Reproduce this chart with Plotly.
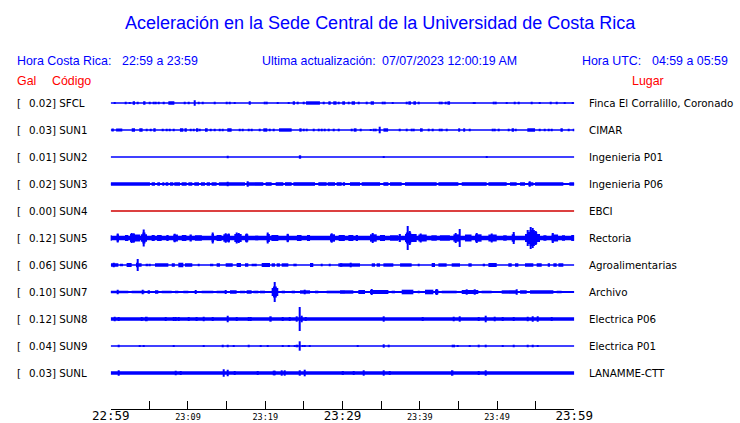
import plotly.graph_objects as go

# ---------------- data ----------------
codes = ["SFCL", "SUN1", "SUN2", "SUN3", "SUN4", "SUN5", "SUN6", "SUN7", "SUN8", "SUN9", "SUNL"]
gal_max = [0.02, 0.03, 0.01, 0.02, 0.00, 0.12, 0.06, 0.10, 0.12, 0.04, 0.03]
places = ["Finca El Corralillo, Coronado", "CIMAR", "Ingenieria P01", "Ingenieria P06", "EBCI",
          "Rectoria", "Agroalimentarias", "Archivo", "Electrica P06", "Electrica P01", "LANAMME-CTT"]

tick_minutes = [0, 5, 10, 15, 20, 25, 30, 35, 40, 45, 50, 55, 60]
tick_labels = ["22:59", "", "23:09", "", "23:19", "", "23:29", "", "23:39", "", "23:49", "", "23:59"]
big_labels = ["22:59", "23:29", "23:59"]

title_text = "Aceleración en la Sede Central de la Universidad de Costa Rica"
hora_cr = "22:59 a 23:59"
hora_utc = "04:59 a 05:59"
ultima = "07/07/2023 12:00:19 AM"

# bursts per station: (start minute, end minute, half amplitude in trace units)
SFCL_bursts = [(0.56,0.56,1.0),(1.94,1.94,1.3),(2.50,2.50,1.0),(2.9,3.15,1.7),(3.45,3.45,1.3),(4.2,4.5,1.7),
    (5.0,5.0,1.3),(5.52,5.52,1.3),(5.82,5.82,1.3),(6.16,6.16,1.3),(6.81,6.81,1.3),(7.46,8.24,1.7),(9.53,9.53,1.3),
    (10.05,10.05,1.3),(10.91,10.91,2.7),(11.34,11.34,1.3),(11.86,11.86,1.3),(13.41,13.41,1.3),(15.01,15.01,1.3),
    (15.35,15.35,1.3),(16.0,16.0,1.0),(17.88,18.13,1.7),(19.88,19.88,1.3),(20.18,20.18,1.3),(21.56,21.56,1.0),
    (22.99,22.99,1.0),(23.6,23.85,1.7),(24.2,24.2,1.3),(25.02,25.02,1.3),(25.28,27.08,1.7),(27.52,27.52,1.3),
    (28.17,28.47,1.7),(28.8,29.23,1.7),(29.46,29.46,1.3),(29.97,30.33,1.7),(30.75,30.75,1.3),(31.18,31.62,1.7),
    (32.05,32.05,1.3),(33.13,33.13,1.3),(33.64,34.07,1.7),(35.15,35.15,1.3),(35.41,35.41,1.3),(36.45,36.45,1.0),
    (38.3,38.3,1.3),(38.52,38.86,1.7),(39.17,39.51,1.7),(39.81,39.81,1.3),(42.62,42.62,1.3),(42.88,42.88,1.3),
    (43.39,43.39,1.3),(43.57,43.92,1.7),(46.93,46.93,1.0),(47.15,47.15,1.0),(49.52,49.52,1.3),(49.78,49.78,1.3),
    (51.25,51.25,1.0),(52.32,52.32,1.3),(52.76,52.76,1.3),(54.48,54.48,1.3),(55.47,55.47,1.0),(56.98,56.98,1.3),
    (57.72,57.72,1.3),(58.8,58.8,1.0),(59.75,59.75,1.0)]

SUN1_bursts = [(0.1,0.4,1.5),(0.7,1.5,1.5),(2.72,3.15,1.7),(3.7,4.13,1.7),(4.65,4.65,1.3),(5.17,5.17,1.3),
    (5.52,5.82,1.7),(6.68,6.68,1.3),(7.24,7.24,1.3),(7.59,7.59,1.3),(8.11,8.11,1.3),(8.96,9.40,1.7),(9.55,9.85,1.7),
    (10.35,10.35,1.3),(10.69,10.69,1.3),(11.04,11.34,1.7),(11.56,11.56,1.3),(12.2,12.55,1.7),(12.98,12.98,1.3),
    (13.5,13.5,1.3),(14.14,14.14,1.3),(14.45,14.45,1.3),(15.09,15.65,1.7),(16.73,16.73,1.3),(17.04,17.04,1.3),
    (17.81,17.81,1.3),(18.24,18.24,1.3),(19.32,19.32,1.3),(19.75,20.27,1.7),(20.62,20.62,1.3),(21.05,21.05,1.3),
    (21.78,23.42,1.7),(24.41,24.71,1.7),(25.02,25.02,1.3),(25.36,25.36,1.3),(26.22,26.22,1.3),(26.87,26.87,1.3),
    (27.3,27.3,1.3),(27.73,27.73,1.3),(28.17,28.17,1.3),(28.9,28.9,1.3),(29.46,29.46,1.3),(31.18,31.18,1.3),
    (31.57,31.82,1.7),(32.35,32.35,1.3),(33.64,33.64,1.0),(34.08,34.08,1.3),(34.29,34.29,1.3),(34.85,34.85,3.3),
    (35.3,35.9,1.7),(37.35,37.35,1.3),(38.3,38.3,1.3),(38.95,38.95,1.3),(39.17,39.17,1.3),(40.03,40.38,1.7),
    (41.11,41.11,1.3),(41.67,41.67,1.3),(42.62,42.62,1.3),(42.88,42.88,1.3),(43.48,43.48,1.3),(44.97,45.23,1.7),
    (45.62,45.88,1.7),(46.5,46.5,1.3),(49.43,49.43,1.3),(49.74,49.74,1.3),(50.17,50.17,1.3),(51.46,51.46,1.3),
    (51.89,52.19,1.7),(52.41,52.41,1.3),(53.92,54.92,1.7),(55.47,55.47,1.3),(56.21,56.21,1.3),(56.64,56.64,1.3),
    (57.07,57.07,1.3),(58.21,58.51,1.7),(59.23,59.23,1.3),(59.88,59.88,1.3)]

SUN2_bursts = [(15.09,15.09,1.3),(24.35,24.65,1.7),(35.28,35.28,1.0),(48.66,48.66,1.0)]

SUN3_bursts = [(0.0,5.08,1.8),(5.30,5.73,1.8),(6.03,6.38,1.8),(6.68,6.94,1.8),(7.11,7.46,1.8),(7.67,8.10,1.8),
    (8.23,8.97,1.8),(9.18,9.83,1.8),(10.05,10.56,1.8),(10.82,11.43,1.8),(11.68,12.20,1.8),(12.42,12.85,1.8),
    (13.06,13.71,1.8),(14.0,17.38,1.8),(17.60,19.75,1.8),(20.05,20.83,1.8),(21.35,22.34,1.8),(22.56,23.42,1.8),
    (23.64,26.44,1.8),(26.87,27.95,1.8),(28.08,29.03,1.8),(29.24,29.9,1.8),(30.11,30.33,1.8),(30.97,32.27,1.8),
    (32.48,34.86,1.8),(35.29,35.94,1.8),(36.15,37.66,1.8),(38.09,42.19,1.8),(42.41,45.0,1.8),(45.43,48.66,1.8),
    (48.88,51.25,1.8),(51.68,52.54,1.8),(52.98,53.62,1.8),(54.05,54.70,1.8),(54.92,58.58,1.8),(59.36,60.0,1.8),
    (15.09,15.09,2.3),(17.76,17.76,2.7),(54.27,54.27,2.7)]

SUN4_bursts = []

SUN5_bursts = [(0.0,0.12,2.7),(0.77,1.07,3.5),(0.9,0.95,4.5),(1.85,2.28,3.0),(2.50,3.14,4.0),(2.7,2.75,5.0),
    (2.95,3.0,4.7),(3.14,3.79,3.5),(3.9,4.7,3.7),(4.1,4.5,5.5),(4.25,4.3,8.5),(5.3,5.7,3.0),(6.0,6.6,3.0),
    (7.2,7.5,3.0),(8.1,8.7,3.5),(8.3,8.35,4.3),(9.2,9.8,3.0),(10.2,10.5,3.5),(10.9,11.8,2.7),(13.06,13.37,4.0),
    (13.2,13.25,5.5),(13.7,14.35,3.0),(14.58,15.44,3.7),(14.9,14.95,4.8),(15.2,15.25,4.5),(16.0,16.95,4.0),
    (16.3,16.35,5.5),(16.6,16.65,5.0),(17.38,17.81,3.7),(17.55,17.6,4.5),(18.7,19.1,2.3),(20.2,20.6,4.0),
    (20.35,20.4,5.5),(20.8,21.7,3.0),(22.77,23.08,3.5),(22.9,22.95,4.2),(24.1,24.7,3.0),(25.4,25.8,3.0),
    (28.38,29.03,3.7),(28.6,28.65,4.7),(29.5,30.3,3.0),(30.76,31.41,3.0),(31.8,32.0,3.0),(33.56,34.43,3.7),
    (33.9,33.95,5.0),(34.85,35.5,3.0),(36.15,37.2,2.7),(37.45,37.5,4.0),(38.09,39.6,4.0),(38.2,38.9,5.5),
    (38.4,38.45,12.0),(38.7,38.75,7.0),(39.82,40.9,3.5),(40.1,40.15,4.5),(41.5,42.2,2.7),(42.6,43.9,2.7),
    (44.35,45.2,3.7),(45.12,45.17,9.0),(44.6,44.65,5.0),(45.85,46.7,3.5),(47.15,48.0,3.7),(47.4,47.45,5.0),
    (48.88,49.96,3.5),(49.3,49.35,4.5),(50.8,51.25,2.7),(51.9,52.3,3.7),(52.08,52.13,6.0),(53.62,55.56,4.0),
    (53.9,55.2,6.0),(54.2,54.9,8.0),(54.35,54.4,11.0),(54.6,54.65,10.0),(54.0,54.05,8.0),(55.0,55.05,7.0),
    (56.0,56.4,2.7),(57.07,57.9,3.5),(57.25,57.3,5.0),(58.4,58.8,2.7),(59.6,60.0,3.0)]

SUN6_bursts = [(0.04,0.99,1.7),(0.4,0.5,2.3),(1.2,1.6,1.3),(2.06,2.71,2.0),(3.27,3.57,2.3),(3.4,3.5,6.0),
    (3.57,4.0,1.7),(4.52,4.87,1.3),(5.08,5.08,1.3),(5.73,7.46,1.7),(7.9,8.3,1.7),(8.75,9.4,2.3),(9.61,10.56,1.7),
    (11.34,11.34,1.3),(12.85,13.28,1.3),(13.71,14.14,1.7),(14.88,15.79,1.7),(16.30,16.86,2.0),(17.38,17.81,1.7),
    (18.24,18.9,1.3),(19.54,20.62,2.0),(20.83,21.26,1.7),(21.48,21.9,1.7),(22.13,22.99,1.7),(23.64,24.07,1.3),
    (25.79,26.22,2.0),(27.3,27.3,1.3),(28.38,28.38,1.3),(29.46,29.98,1.7),(29.68,32.27,1.7),(31.1,31.1,2.3),
    (33.78,34.21,1.7),(34.42,34.86,1.7),(35.29,36.58,1.7),(37.45,38.95,1.7),(39.81,39.81,1.3),(41.54,41.97,2.0),
    (42.41,43.48,1.7),(44.13,45.21,1.7),(46.29,46.72,1.7),(48.23,48.45,1.3),(48.88,49.96,2.0),(51.46,51.9,1.7),
    (52.33,52.76,1.7),(53.62,54.70,1.7),(55.13,55.78,1.7),(56.64,56.86,1.7),(57.29,57.72,1.7),(57.94,58.58,1.7)]

SUN7_bursts = [(0.0,2.28,1.3),(0.8,0.95,2.3),(2.71,4.44,1.3),(4.1,4.2,2.3),(4.78,5.08,1.7),(5.73,6.16,1.7),
    (6.6,7.89,1.3),(8.32,8.75,1.3),(9.4,10.05,1.3),(10.9,11.0,2.0),(11.77,13.28,1.3),(13.71,14.8,1.3),
    (14.8,14.9,2.0),(15.44,16.3,1.7),(16.73,17.38,1.3),(17.6,18.24,1.7),(18.46,19.11,1.3),(19.32,19.97,1.3),
    (20.83,21.69,4.0),(21.0,21.5,5.5),(21.2,21.25,10.0),(22.13,22.56,1.3),(23.42,23.85,1.3),(24.5,25.8,1.7),
    (25.1,25.2,2.3),(26.44,26.87,1.3),(27.95,30.32,1.3),(29.68,31.4,1.7),(32.05,32.91,2.0),(33.56,35.94,2.0),
    (33.75,33.85,3.0),(36.36,36.8,1.3),(37.66,39.17,2.3),(39.82,39.82,1.3),(40.68,41.76,2.3),(41.97,42.41,2.3),
    (42.19,42.25,3.0),(42.84,44.78,1.3),(45.43,47.58,2.0),(46.05,46.15,2.7),(47.15,47.2,2.7),(48.0,49.3,1.3),
    (50.6,52.54,1.7),(52.5,52.6,2.7),(52.98,53.84,1.7),(54.27,57.29,1.7),(57.72,58.36,1.3),(59.23,59.88,1.0)]

SUN8_bursts = [(0.47,0.47,2.3),(1.07,1.07,2.0),(4.0,4.0,2.0),(4.44,4.78,2.3),(7.15,7.15,2.0),(8.1,8.1,2.0),
    (8.45,8.45,2.0),(8.75,8.75,2.0),(10.05,10.05,2.0),(10.98,11.25,2.0),(12.03,12.03,2.3),(13.15,13.15,2.0),
    (15.09,15.09,3.3),(16.3,16.3,2.0),(17.81,17.81,2.0),(18.11,18.11,2.0),(20.53,20.83,2.7),(22.25,22.25,2.0),
    (23.2,23.2,2.0),(23.94,24.2,2.7),(24.45,24.55,12.0),(24.7,24.7,3.3),(25.3,25.3,2.0),(35.29,35.29,2.7),
    (40.34,40.34,2.0),(44.35,44.35,2.3),(45.08,45.3,2.7),(47.58,47.58,2.0),(48.53,48.53,3.3),(49.74,49.74,2.3),
    (50.69,50.69,2.0),(52.11,52.11,2.0),(53.92,53.92,2.3),(54.57,54.57,2.7),(55.3,55.3,2.7),(57.12,57.12,2.0)]

SUN9_bursts = [(1.0,1.0,1.3),(3.79,3.79,1.0),(4.22,4.22,1.0),(8.1,8.1,1.0),(11.99,11.99,1.0),(14.45,14.45,1.3),
    (15.09,15.09,1.3),(15.87,15.87,1.0),(17.81,17.81,1.3),(19.45,19.45,1.0),(20.27,20.27,1.0),(22.25,22.25,1.0),
    (23.11,23.11,1.0),(23.76,23.76,1.0),(24.07,24.28,1.3),(24.45,24.55,4.7),(24.84,24.84,1.0),(25.14,25.14,1.0),
    (25.7,25.7,1.0),(31.92,31.92,1.0),(35.29,35.29,1.7),(35.94,35.94,1.3),(44.13,44.56,1.3),(44.87,44.87,1.0),
    (46.42,46.42,1.0),(47.58,47.58,1.3),(48.53,48.53,1.3),(50.69,50.69,1.0),(52.11,52.11,1.3),(53.92,53.92,1.3),
    (54.57,54.57,1.3),(55.26,55.26,1.0)]

SUNL_bursts = [(1.0,1.0,2.7),(8.45,8.45,2.3),(9.1,9.1,2.0),(14.58,14.58,3.7),(15.09,15.09,3.3),(16.0,16.0,2.0),
    (18.98,18.98,2.0),(21.05,21.05,2.3),(21.26,21.26,2.3),(22.13,22.13,2.7),(22.56,22.56,2.7),(24.4,24.6,2.7),
    (25.0,25.2,3.3),(30.1,30.1,2.0),(31.4,31.4,2.0),(32.7,32.7,2.7),(35.29,35.29,2.7),(36.15,36.15,2.0),
    (44.04,44.35,2.7),(47.58,47.58,2.0),(48.49,48.49,2.7)]

# ---------------- layout constants ----------------
W, H = 740, 423
X0, X1 = 110.7, 574.3
ROW0, ROWSTEP = 103, 27
BLUE, RED = "#0000FF", "#FF0000"

all_bursts = [SFCL_bursts, SUN1_bursts, SUN2_bursts, SUN3_bursts, SUN4_bursts, SUN5_bursts,
              SUN6_bursts, SUN7_bursts, SUN8_bursts, SUN9_bursts, SUNL_bursts]
line_w = [1.6, 1.6, 1.6, 2, 1.5, 4.5, 1.6, 2, 3.5, 1.5, 3.5]
line_c = [BLUE, BLUE, BLUE, BLUE, "#D00000", BLUE, BLUE, BLUE, BLUE, BLUE, BLUE]

fig = go.Figure()
for i, bursts in enumerate(all_bursts):
    fig.add_trace(go.Scatter(x=[tick_minutes[0], tick_minutes[-1]], y=[i, i], mode="lines",
                             line=dict(color=line_c[i], width=line_w[i]), hoverinfo="skip"))
    if bursts:
        xs, ws, bs, hs = [], [], [], []
        for t0, t1, a in bursts:
            xs.append((t0 + t1) / 2)
            ws.append(max(t1 - t0, 0.15))
            bs.append(i - a / ROWSTEP)
            hs.append(2 * a / ROWSTEP)
        fig.add_trace(go.Bar(x=xs, y=hs, base=bs, width=ws,
                             marker=dict(color=BLUE, line=dict(width=0)), hoverinfo="skip"))

ticktext = []
for lab in tick_labels:
    if lab in big_labels:
        ticktext.append('<span style="font-size:12.5px">' + lab + '</span>')
    else:
        ticktext.append(lab)


def px(x):
    return x / W


def py(y):
    return 1 - y / H


annotations = []


def ann(text, x, y, size, color="black", family="DejaVu Sans", xanchor="left"):
    annotations.append(dict(text=text, x=px(x), y=py(y), xref="paper", yref="paper",
                            xanchor=xanchor, yanchor="middle", showarrow=False,
                            font=dict(size=size, color=color, family=family)))


HF = "Liberation Sans"
ann(title_text, 381, 22.5, 18, BLUE, HF, "center")
ann("Hora Costa Rica:", 15, 61, 12.4, BLUE, HF)
ann(hora_cr, 120, 61, 12.4, BLUE, HF)
ann("Ultima actualización:", 260, 61, 12.4, BLUE, HF)
ann(ultima, 380, 61, 12.4, BLUE, HF)
ann("Hora UTC:", 580, 61, 12.4, BLUE, HF)
ann(hora_utc, 650, 61, 12.4, BLUE, HF)
ann("Gal", 15, 80.5, 12.4, RED, HF)
ann("Código", 50, 80.5, 12.4, RED, HF)
ann("Lugar", 630, 80.5, 12.4, RED, HF)

for i, (c, g, p) in enumerate(zip(codes, gal_max, places)):
    yy = ROW0 + ROWSTEP * i
    ann("[", 15, yy, 10.3)
    ann("%.2f] %s" % (g, c), 27, yy, 10.3)
    ann(p, 587, yy, 10.3)

fig.update_layout(
    template="none", autosize=False,
    width=W, height=H, margin=dict(l=0, r=0, t=0, b=0, pad=0, autoexpand=False),
    paper_bgcolor="white", plot_bgcolor="white", showlegend=False,
    barmode="overlay", hovermode=False,
    xaxis=dict(domain=[px(X0), px(X1)], range=[tick_minutes[0], tick_minutes[-1]],
               anchor="free", position=(H - 409) / H, automargin=False,
               showline=True, linecolor="black", linewidth=1, mirror=False,
               ticks="inside", ticklen=8, tickwidth=1, tickcolor="black",
               tickmode="array", tickvals=tick_minutes, ticktext=ticktext,
               tickfont=dict(family="DejaVu Sans Mono", size=8.5, color="black"),
               showgrid=False, zeroline=False, fixedrange=True),
    yaxis=dict(domain=[0, 1], range=[(H - ROW0) / ROWSTEP, -ROW0 / ROWSTEP],
               visible=False, fixedrange=True, automargin=False),
    annotations=annotations,
)

fig.write_html("out.html", config={"responsive": False, "displayModeBar": False},
               post_script="document.body.style.margin='0';document.body.style.overflow='hidden';")
